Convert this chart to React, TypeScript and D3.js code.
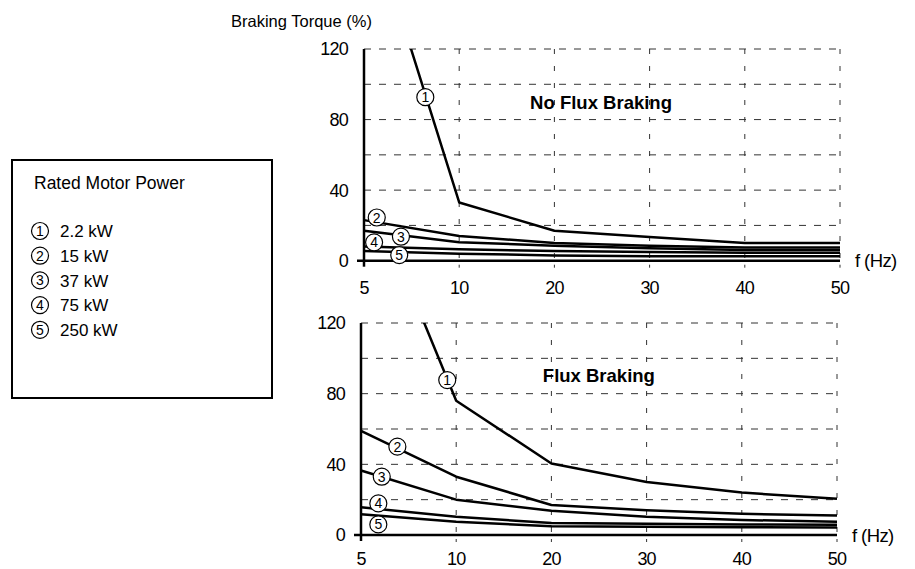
import React from "react";
import * as d3 from "d3";

const freqs = [5, 10, 20, 30, 40, 50];
const noFlux1 = [205, 33, 17, 13.5, 10, 10];
const noFlux2 = [23, 14, 10, 8.5, 7.5, 7.5];
const noFlux3 = [17, 10.5, 8.5, 7, 6, 6];
const noFlux4 = [8, 6.5, 5.5, 5, 4.5, 4.5];
const noFlux5 = [5.5, 4, 3, 2.5, 2.5, 2.5];

const flux1 = [207, 76, 40.5, 30, 24, 20.5];
const flux2 = [59, 33, 17, 14, 12, 11];
const flux3 = [36.5, 20, 13.7, 10.3, 8.5, 7.5];
const flux4 = [15.7, 10.3, 6.8, 6.3, 6, 5.8];
const flux5 = [11.7, 7.5, 5, 4.7, 4.4, 4.2];

const noFluxLabelF = [8.22, 5.67, 6.94, 5.53, 6.85];
const noFluxLabelV = [92.7, 24.5, 13.6, 10.4, 3.2];
const fluxLabelF = [9.53, 6.91, 6.09, 5.91, 5.91];
const fluxLabelV = [87.7, 50, 33, 17.9, 6];

const yTickLabels = [0, 40, 80, 120];
const yGrid = [20, 40, 60, 80, 100, 120];
const xGrid = [10, 20, 30, 40, 50];

const legendTitle = "Rated Motor Power";
const legendItems = ["2.2 kW", "15 kW", "37 kW", "75 kW", "250 kW"];
const circleNums = ["1", "2", "3", "4", "5"];

const FONT = "'Liberation Sans', Arial, Helvetica, sans-serif";

type PanelProps = {
  id: string;
  x0: number;
  x1: number;
  yBottom: number;
  yTop: number;
  series: number[][];
  labelF: number[];
  labelV: number[];
  title: string;
  titleF: number;
  titleV: number;
  tickBaseline: number;
};

function Panel(p: PanelProps) {
  const step = (p.x1 - p.x0) / (freqs.length - 1);
  const x = d3
    .scaleLinear()
    .domain(freqs)
    .range(freqs.map((_, i) => p.x0 + i * step));
  const y = d3.scaleLinear().domain([0, 120]).range([p.yBottom, p.yTop]);
  const line = d3
    .line<number>()
    .x((_, i) => x(freqs[i]))
    .y((d) => y(d));
  const clipId = "clip-" + p.id;
  return (
    <g>
      <defs>
        <clipPath id={clipId}>
          <rect x={x(5) - 8} y={y(120)} width={x(50) - x(5) + 16} height={y(0) - y(120) + 10} />
        </clipPath>
      </defs>
      {yGrid.map((v) => (
        <line key={"hg" + v} x1={x(5)} x2={x(50)} y1={y(v)} y2={y(v)} stroke="#333" strokeWidth={1} strokeDasharray="7,8" />
      ))}
      {xGrid.map((f) => (
        <line key={"vg" + f} x1={x(f)} x2={x(f)} y1={y(120)} y2={y(0)} stroke="#333" strokeWidth={1} strokeDasharray="5,12" />
      ))}
      {xGrid.map((f) => (
        <line key={"vt" + f} x1={x(f)} x2={x(f)} y1={y(0) + 4} y2={y(0) + 7} stroke="#333" strokeWidth={1} />
      ))}
      <line x1={x(5)} x2={x(5)} y1={y(120)} y2={y(0) + 6} stroke="#000" strokeWidth={2.5} />
      <line x1={x(5) - 7} x2={x(50)} y1={y(0)} y2={y(0)} stroke="#000" strokeWidth={2.5} />
      {yTickLabels.map((v) => (
        <text key={"yl" + v} x={x(5) - 16} y={y(v)} dy="0.36em" textAnchor="end" fontSize={18} fontFamily={FONT} letterSpacing={-0.8}>
          {v}
        </text>
      ))}
      {freqs.map((f) => (
        <text key={"xl" + f} x={x(f)} y={p.tickBaseline} textAnchor="middle" fontSize={18} fontFamily={FONT} letterSpacing={-0.8}>
          {f}
        </text>
      ))}
      <text x={x(50) + 15} y={y(0)} dy="0.36em" fontSize={18.5} fontFamily={FONT} letterSpacing={-0.6}>
        f (Hz)
      </text>
      <g clipPath={`url(#${clipId})`}>
        {p.series.map((s, i) => (
          <path key={"s" + i} d={line(s) || ""} fill="none" stroke="#000" strokeWidth={2.5} strokeLinejoin="round" />
        ))}
      </g>
      {p.labelF.map((f, i) => (
        <g key={"lab" + i} transform={`translate(${x(f)},${y(p.labelV[i])})`}>
          <circle r={8.5} fill="#fff" stroke="#000" strokeWidth={1.2} />
          <text y={0} dy="0.36em" textAnchor="middle" fontSize={14} fontFamily={FONT}>
            {circleNums[i]}
          </text>
        </g>
      ))}
      <text x={x(p.titleF)} y={y(p.titleV)} fontSize={18.5} fontWeight="bold" fontFamily={FONT}>
        {p.title}
      </text>
    </g>
  );
}

export default function App() {
  return (
    <div style={{ position: "absolute", left: 0, top: 0 }}>
      <svg width={915} height={569} style={{ display: "block", background: "#fff" }}>
        <text x={231} y={27} fontSize={16.5} fontFamily={FONT}>
          Braking Torque (%)
        </text>
        <Panel
          id="top"
          x0={364}
          x1={840}
          yBottom={260.7}
          yTop={49}
          series={[noFlux1, noFlux2, noFlux3, noFlux4, noFlux5]}
          labelF={noFluxLabelF}
          labelV={noFluxLabelV}
          title="No Flux Braking"
          titleF={17.45}
          titleV={86}
          tickBaseline={294}
        />
        <Panel
          id="bottom"
          x0={361}
          x1={837}
          yBottom={535}
          yTop={323}
          series={[flux1, flux2, flux3, flux4, flux5]}
          labelF={fluxLabelF}
          labelV={fluxLabelV}
          title="Flux Braking"
          titleF={19.1}
          titleV={86.8}
          tickBaseline={565}
        />
        <rect x={12} y={160} width={260} height={238} fill="none" stroke="#000" strokeWidth={2} />
        <text x={34} y={189} fontSize={17.5} fontFamily={FONT}>
          {legendTitle}
        </text>
        {legendItems.map((t, i) => (
          <g key={"li" + i} transform={`translate(0,${231 + i * 24.7})`}>
            <circle cx={40} cy={0} r={8.5} fill="#fff" stroke="#000" strokeWidth={1.2} />
            <text x={40} y={0} dy="0.36em" textAnchor="middle" fontSize={14} fontFamily={FONT}>
              {circleNums[i]}
            </text>
            <text x={60} y={0} dy="0.36em" fontSize={17} fontFamily={FONT}>
              {t}
            </text>
          </g>
        ))}
      </svg>
    </div>
  );
}
